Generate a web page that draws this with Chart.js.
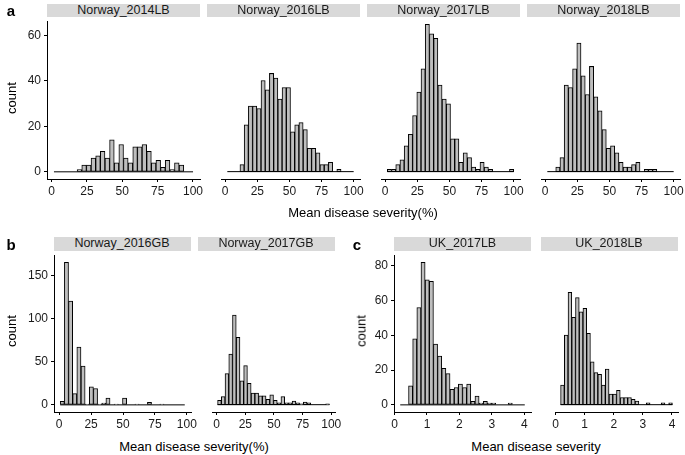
<!DOCTYPE html>
<html>
<head>
<meta charset="utf-8">
<script src="https://cdn.jsdelivr.net/npm/chart.js@4.4.1/dist/chart.umd.min.js"></script>
<style>
  body { margin: 0; background: #fff; font-family: "Liberation Sans", Arial, sans-serif; }
  #fig { position: relative; width: 685px; height: 455px; overflow: hidden; }
  .strip { position: absolute; background: #d9d9d9; color: #1a1a1a; font-size: 12.5px; text-align: center; }
  .txt { position: absolute; white-space: nowrap; color: #000; transform: translate(-50%, -50%); }
  canvas { position: absolute; }
</style>
</head>
<body>
<div id="fig"></div>
<script>
// histogram bins (30 per facet group): first bin start and bin width
const norwayLBBins = { start: 1.65, width: 3.28 };
const norwayGBBins = { start: 0.8, width: 3.253 };
const ukLBBins = { start: 0.175, width: 0.128 };

// counts per bin
const norway2014LB = [0,0,0,0,0,1,3,3,6,7,9,6,14,4,12,6,4,11,11,12,9,4,5,2,5,1,4,3,0,0];
const norway2016LB = [0,0,0,3,20,28,28,27,39,35,42,40,31,36,36,17,20,21,18,10,10,8,3,3,4,0,1,0,0,0];
const norway2017LB = [1,1,3,5,11,16,24,34,44,63,59,57,37,31,29,14,14,4,8,6,2,1,4,2,1,0,0,0,0,1];
const norway2018LB = [0,0,2,6,37,36,44,55,41,33,45,32,26,18,10,11,8,4,2,2,3,4,0,1,1,1,0,0,0,0];
const norway2016GB = [4,165,120,13,67,45,1,21,19,1,2,8,0,1,0,8,0,0,1,0,0,3,0,0,1,0,0,0,0,0];
const norway2017GB = [5,9,35,57,101,76,27,44,24,13,13,10,10,6,11,5,2,9,2,2,4,2,1,3,2,0,0,0,0,1];
const uk2017LB = [0,0,11,38,56,82,72,71,35,28,21,18,9,10,12,10,12,2,5,1,2,1,1,0,0,0,1,0,0,0];
const uk2018LB = [11,39,63,49,60,52,54,40,24,18,17,11,20,6,6,8,4,4,4,3,2,0,0,1,0,0,0,1,0,1];

// tick labels
const pctTicks = [0, 25, 50, 75, 100];
const ukTicks = [0, 1, 2, 3, 4];
const countTicksA = [0, 20, 40, 60];
const countTicksB = [0, 50, 100, 150];
const countTicksC = [0, 20, 40, 60, 80];

const FONT = '"Liberation Sans", Arial, sans-serif';
Chart.defaults.font.family = FONT;

const fig = document.getElementById('fig');

const panels = [
  { title: 'Norway_2014LB', counts: norway2014LB, bins: norwayLBBins, x: [-3.27, 104.97], xt: pctTicks, y: [-3.15, 66.15], yt: countTicksA, left: 47, top: 17, w: 153, h: 162, showY: true },
  { title: 'Norway_2016LB', counts: norway2016LB, bins: norwayLBBins, x: [-3.27, 104.97], xt: pctTicks, y: [-3.15, 66.15], yt: countTicksA, left: 207, top: 17, w: 153, h: 162, showY: false },
  { title: 'Norway_2017LB', counts: norway2017LB, bins: norwayLBBins, x: [-3.27, 104.97], xt: pctTicks, y: [-3.15, 66.15], yt: countTicksA, left: 367, top: 17, w: 153, h: 162, showY: false },
  { title: 'Norway_2018LB', counts: norway2018LB, bins: norwayLBBins, x: [-3.27, 104.97], xt: pctTicks, y: [-3.15, 66.15], yt: countTicksA, left: 527, top: 17, w: 153, h: 162, showY: false },
  { title: 'Norway_2016GB', counts: norway2016GB, bins: norwayGBBins, x: [-4.08, 103.28], xt: pctTicks, y: [-8.25, 173.25], yt: countTicksB, left: 53.5, top: 250.5, w: 137, h: 161, showY: true },
  { title: 'Norway_2017GB', counts: norway2017GB, bins: norwayGBBins, x: [-4.08, 103.28], xt: pctTicks, y: [-8.25, 173.25], yt: countTicksB, left: 197.5, top: 250.5, w: 137, h: 161, showY: false },
  { title: 'UK_2017LB', counts: uk2017LB, bins: ukLBBins, x: [-0.017, 4.207], xt: ukTicks, y: [-4.1, 86.1], yt: countTicksC, left: 394, top: 250.5, w: 137, h: 161, showY: true },
  { title: 'UK_2018LB', counts: uk2018LB, bins: ukLBBins, x: [-0.017, 4.207], xt: ukTicks, y: [-4.1, 86.1], yt: countTicksC, left: 540.5, top: 250.5, w: 137, h: 161, showY: false }
];

function addText(text, x, y, size, extra) {
  const d = document.createElement('div');
  d.className = 'txt';
  d.textContent = text;
  d.style.left = x + 'px';
  d.style.top = y + 'px';
  d.style.fontSize = size + 'px';
  if (extra) Object.assign(d.style, extra);
  fig.appendChild(d);
}

function drawPanel(p) {
  const ml = p.showY ? 34 : 14, mr = 14, mt = 6, mb = 24;
  const cw = Math.round(p.w + ml + mr), ch = Math.round(p.h + mt + mb);

  const strip = document.createElement('div');
  strip.className = 'strip';
  const stripH = 13.5;
  strip.style.left = p.left + 'px';
  strip.style.top = (p.top - stripH) + 'px';
  strip.style.width = p.w + 'px';
  strip.style.height = stripH + 'px';
  strip.style.lineHeight = stripH + 'px';
  strip.textContent = p.title;
  fig.appendChild(strip);

  const cv = document.createElement('canvas');
  cv.width = cw; cv.height = ch;
  cv.style.width = cw + 'px'; cv.style.height = ch + 'px';
  cv.style.left = (p.left - ml) + 'px';
  cv.style.top = (p.top - mt) + 'px';
  fig.appendChild(cv);

  const bw = p.bins.width;
  const lo = p.bins.start, hi = p.bins.start + bw * p.counts.length;
  const bars = p.counts.map((c, i) => ({ x: lo + bw * (i + 0.5), y: c }));

  const tickFont = { size: 12, family: FONT };
  new Chart(cv, {
    type: 'bar',
    data: {
      datasets: [
        { type: 'bar', data: bars, backgroundColor: '#bebebe', borderColor: '#000', borderWidth: 1,
          borderSkipped: false, barPercentage: 1, categoryPercentage: 1, grouped: false },
        { type: 'line', data: [{ x: lo, y: 0 }, { x: hi, y: 0 }], borderColor: '#000', borderWidth: 1,
          pointRadius: 0 }
      ]
    },
    options: {
      responsive: false,
      animation: false,
      layout: { padding: { left: p.showY ? 0 : ml, right: mr, top: mt, bottom: 0 } },
      plugins: { legend: { display: false }, tooltip: { enabled: false } },
      scales: {
        x: {
          type: 'linear', min: p.x[0], max: p.x[1], offset: false,
          afterBuildTicks: s => { s.ticks = p.xt.map(v => ({ value: v })); },
          afterFit: s => { s.height = mb; },
          grid: { display: true, offset: false, drawOnChartArea: false, drawTicks: true, tickLength: 3, color: '#000' },
          border: { display: true, color: '#000', width: 1 },
          ticks: { font: tickFont, color: '#1a1a1a', padding: 2, maxRotation: 0, autoSkip: false }
        },
        y: {
          display: p.showY, min: p.y[0], max: p.y[1],
          afterBuildTicks: s => { s.ticks = p.yt.map(v => ({ value: v })); },
          afterFit: s => { s.width = ml; },
          grid: { display: true, drawOnChartArea: false, drawTicks: true, tickLength: 3, color: '#000' },
          border: { display: true, color: '#000', width: 1 },
          ticks: { font: tickFont, color: '#1a1a1a', padding: 3, autoSkip: false }
        }
      }
    }
  });
}

panels.forEach(drawPanel);

// panel letters
addText('a', 11, 10, 15, { fontWeight: 'bold' });
addText('b', 11, 244, 15, { fontWeight: 'bold' });
addText('c', 357, 244, 15, { fontWeight: 'bold' });

// axis titles
addText('Mean disease severity(%)', 363, 212, 13);
addText('Mean disease severity(%)', 194, 446, 13);
addText('Mean disease severity', 536, 446, 13);
addText('count', 11, 98, 13, { transform: 'translate(-50%, -50%) rotate(-90deg)' });
addText('count', 11, 331, 13, { transform: 'translate(-50%, -50%) rotate(-90deg)' });
addText('count', 361, 331, 13, { transform: 'translate(-50%, -50%) rotate(-90deg)' });
</script>
</body>
</html>
